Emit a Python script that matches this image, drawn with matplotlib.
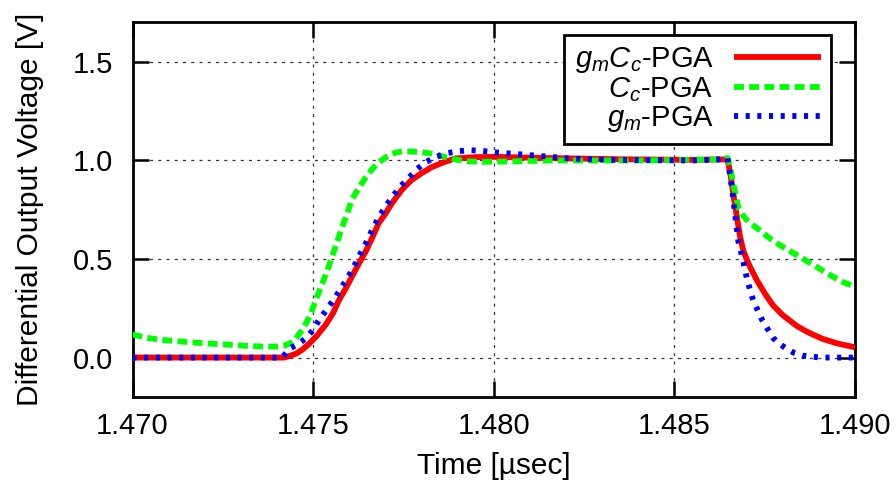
import matplotlib
matplotlib.use("Agg")
import matplotlib.pyplot as plt

plt.rcParams['font.family'] = ['Liberation Sans', 'DejaVu Sans']
plt.rcParams['mathtext.fontset'] = 'custom'
plt.rcParams['mathtext.rm'] = 'Liberation Sans'
plt.rcParams['mathtext.it'] = 'Liberation Sans:italic'

# ---- data (time in usec, voltage in V) ----
red_t = [1.470, 1.4742, 1.47435, 1.47453, 1.4747, 1.47489, 1.4751, 1.47536, 1.47555,
         1.47571, 1.4759, 1.47607, 1.47626, 1.47646, 1.47664, 1.47681, 1.477,
         1.47717, 1.47745, 1.47772, 1.478, 1.47827, 1.4786, 1.47893, 1.4795,
         1.4801, 1.4815, 1.4835, 1.4855, 1.4862, 1.48647, 1.48655, 1.48664,
         1.48674, 1.48682, 1.48691, 1.48702, 1.48712, 1.48729, 1.48752, 1.48773,
         1.4880, 1.48839, 1.4887, 1.4891, 1.4895, 1.4900]
red_v = [0.0, 0.0, 0.008, 0.02, 0.04, 0.07, 0.11, 0.17, 0.225,
         0.29, 0.35, 0.41, 0.475, 0.54, 0.61, 0.68, 0.73,
         0.78, 0.85, 0.90, 0.935, 0.965, 0.99, 1.01, 1.017,
         1.018, 1.012, 1.006, 1.003, 1.005, 1.005, 0.93, 0.82,
         0.70, 0.61, 0.54, 0.49, 0.45, 0.39, 0.32, 0.265,
         0.215, 0.16, 0.128, 0.095, 0.072, 0.052]

green_t = [1.470, 1.4704, 1.4708, 1.4713, 1.4718, 1.4722, 1.4727, 1.4731, 1.4736,
           1.4740, 1.4742, 1.47445, 1.4747, 1.47485, 1.47497, 1.4751, 1.47525,
           1.4754, 1.47552, 1.47566, 1.4758, 1.47594, 1.47607, 1.47626, 1.47646,
           1.47663, 1.47681, 1.47705, 1.47728, 1.4775, 1.47772, 1.478, 1.47827,
           1.4786, 1.47893, 1.47935, 1.47975, 1.4805, 1.4815, 1.4840, 1.4862,
           1.48647, 1.48655, 1.48663, 1.48677, 1.4869, 1.48704, 1.48737, 1.4876,
           1.48784, 1.4881, 1.48839, 1.48866, 1.48894, 1.4892, 1.48949, 1.4897,
           1.490]
green_v = [0.117, 0.10, 0.09, 0.082, 0.075, 0.07, 0.065, 0.06, 0.056,
           0.056, 0.06, 0.08, 0.14, 0.19, 0.24, 0.305, 0.375,
           0.445, 0.51, 0.585, 0.66, 0.73, 0.80, 0.86, 0.915,
           0.955, 0.99, 1.02, 1.04, 1.047, 1.045, 1.042, 1.035,
           1.02, 1.005, 0.995, 0.993, 0.995, 1.0, 1.0, 1.005,
           1.012, 0.96, 0.88, 0.76, 0.72, 0.69, 0.645, 0.61,
           0.58, 0.55, 0.52, 0.49, 0.46, 0.43, 0.40, 0.38,
           0.36]

blue_t = [1.470, 1.47415, 1.47434, 1.4746, 1.47481, 1.475, 1.47516, 1.4754, 1.47563,
          1.47585, 1.47607, 1.47626, 1.47646, 1.47664, 1.47681, 1.477, 1.47717,
          1.4774, 1.47764, 1.47787, 1.4781, 1.47837, 1.47865, 1.479, 1.47937,
          1.4797, 1.4801, 1.4806, 1.48113, 1.4816, 1.48212, 1.4828, 1.4835,
          1.4855, 1.4862, 1.48647, 1.4866, 1.48669, 1.48677, 1.48688, 1.48702,
          1.48718, 1.48743, 1.48773, 1.4879, 1.48811, 1.4883, 1.48855, 1.4888,
          1.4891, 1.490]
blue_v = [0.0, 0.0, 0.045, 0.07, 0.10, 0.14, 0.19, 0.25, 0.31,
          0.375, 0.44, 0.51, 0.58, 0.65, 0.71, 0.765, 0.81,
          0.865, 0.91, 0.955, 0.99, 1.015, 1.035, 1.047, 1.052,
          1.048, 1.04, 1.033, 1.025, 1.018, 1.01, 1.005, 1.002,
          1.0, 1.005, 1.012, 0.85, 0.71, 0.59, 0.51, 0.39,
          0.29, 0.19, 0.10, 0.07, 0.045, 0.025, 0.01, 0.004,
          0.0, 0.0]

labels = [r'$g_mC_c$-PGA', r'$C_c$-PGA', r'$g_m$-PGA']
x_ticks = [1.470, 1.475, 1.480, 1.485, 1.490]
y_ticks = [0.0, 0.5, 1.0, 1.5]

fig = plt.figure(figsize=(8.96, 4.95), dpi=100)
ax = fig.add_axes([0.1479, 0.198, 0.8064, 0.7566])

lw = 4.2
ax.plot(red_t, red_v, color='#ff0000', lw=lw, label=labels[0],
        solid_capstyle='butt', solid_joinstyle='round', zorder=3)
ax.plot(green_t, green_v, color='#00ff00', lw=lw, label=labels[1],
        linestyle=(0, (1.7, 0.9)), dash_capstyle='butt', zorder=4)
ax.plot(blue_t, blue_v, color='#0000ff', lw=lw, label=labels[2],
        linestyle=(0, (0.7, 1.3)), dash_capstyle='butt', zorder=5)

ax.set_xlim(1.470, 1.490)
ax.set_ylim(-0.2, 1.7)
ax.set_xticks(x_ticks)
ax.set_yticks(y_ticks)
ax.set_xticklabels([f'{v:.3f}' for v in x_ticks])
ax.set_yticklabels([f'{v:.1f}' for v in y_ticks])
ax.tick_params(direction='in', length=11.5, width=1.8, labelsize=21,
               top=True, right=True)
ax.tick_params(axis='x', pad=11)
ax.tick_params(axis='y', pad=14)
for s in ax.spines.values():
    s.set_linewidth(2.0)
ax.grid(True, color='0.2', linestyle=(0, (2.4, 4.2)), linewidth=0.9, zorder=0)
ax.set_axisbelow(True)

ax.set_xlabel('Time [\u00b5sec]', fontsize=21.5)
ax.set_ylabel('Differential Output Voltage [V]', fontsize=21.5)
ax.xaxis.set_label_coords(0.5, -0.147)
ax.yaxis.set_label_coords(-0.122, 0.5)

leg = ax.legend(loc='upper right', bbox_to_anchor=(0.967, 0.9666), borderaxespad=0,
                markerfirst=False, fontsize=21, frameon=True, fancybox=False,
                edgecolor='black', framealpha=1, handlelength=3.0,
                handletextpad=0.68, labelspacing=0.0, borderpad=0.35)
leg.get_frame().set_linewidth(2.0)

fig.savefig('out.png', dpi=100)
